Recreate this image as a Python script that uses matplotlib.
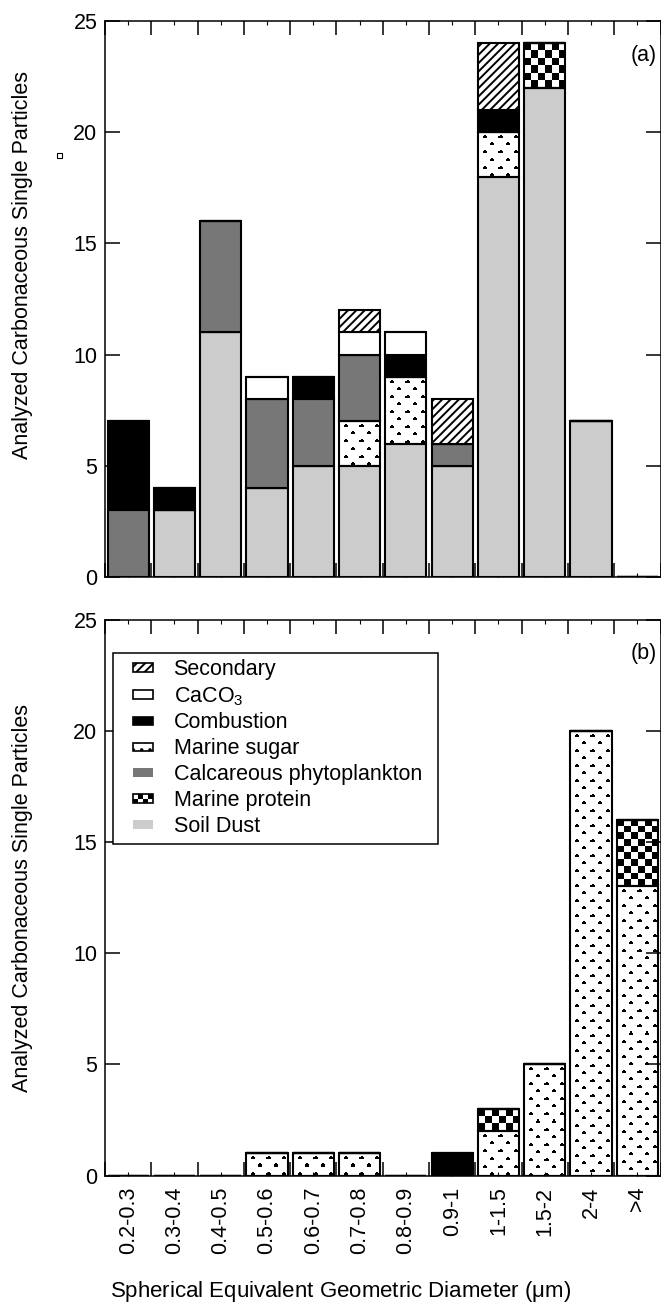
import matplotlib
matplotlib.use("Agg")
import matplotlib.pyplot as plt
import numpy as np
from matplotlib.patches import Patch, Rectangle
from matplotlib.legend_handler import HandlerBase, HandlerPatch

plt.rcParams["font.family"] = ["Liberation Sans", "DejaVu Sans"]
plt.rcParams["mathtext.fontset"] = "custom"
plt.rcParams["mathtext.rm"] = "Liberation Sans"
plt.rcParams["mathtext.it"] = "Liberation Sans:italic"
plt.rcParams["hatch.linewidth"] = 1.4

FS = 15.5

categories = ["0.2-0.3", "0.3-0.4", "0.4-0.5", "0.5-0.6", "0.6-0.7", "0.7-0.8",
              "0.8-0.9", "0.9-1", "1-1.5", "1.5-2", "2-4", ">4"]

# stacking order, bottom to top
components = ["Soil Dust", "Marine sugar", "Marine protein",
              "Calcareous phytoplankton", "Combustion", "CaCO$_3$", "Secondary"]
legend_order = ["Secondary", "CaCO$_3$", "Combustion", "Marine sugar",
                "Calcareous phytoplankton", "Marine protein", "Soil Dust"]

# panel (a)
a_soil = [0, 3, 11, 4, 5, 5, 6, 5, 18, 22, 7, 0]
a_sugar = [0, 0, 0, 0, 0, 2, 3, 0, 2, 0, 0, 0]
a_protein = [0, 0, 0, 0, 0, 0, 0, 0, 0, 2, 0, 0]
a_calc = [3, 0, 5, 4, 3, 3, 0, 1, 0, 0, 0, 0]
a_comb = [4, 1, 0, 0, 1, 0, 1, 0, 1, 0, 0, 0]
a_caco3 = [0, 0, 0, 1, 0, 1, 1, 0, 0, 0, 0, 0]
a_secondary = [0, 0, 0, 0, 0, 1, 0, 2, 3, 0, 0, 0]

# panel (b)
b_soil = [0, 0, 0, 0, 0, 0, 0, 0, 0, 0, 0, 0]
b_sugar = [0, 0, 0, 1, 1, 1, 0, 0, 2, 5, 20, 13]
b_protein = [0, 0, 0, 0, 0, 0, 0, 0, 1, 0, 0, 3]
b_calc = [0, 0, 0, 0, 0, 0, 0, 0, 0, 0, 0, 0]
b_comb = [0, 0, 0, 0, 0, 0, 0, 1, 0, 0, 0, 0]
b_caco3 = [0, 0, 0, 0, 0, 0, 0, 0, 0, 0, 0, 0]
b_secondary = [0, 0, 0, 0, 0, 0, 0, 0, 0, 0, 0, 0]

STYLE = {
    "Soil Dust": dict(facecolor="#cccccc", hatch=None),
    "Marine sugar": dict(facecolor="none", hatch=None),
    "Marine protein": dict(facecolor="none", hatch=None),
    "Calcareous phytoplankton": dict(facecolor="#777777", hatch=None),
    "Combustion": dict(facecolor="black", hatch=None),
    "CaCO$_3$": dict(facecolor="white", hatch=None),
    "Secondary": dict(facecolor="white", hatch="////"),
}

BAR_W = 0.89
CELL_PX = 7.0
DOT_PERIOD = 15


def checker_texture(ny, nx):
    rows = max(2, int(round(ny / CELL_PX)))
    cols = max(2, int(round(nx / CELL_PX)))
    return (np.add.outer(np.arange(rows), np.arange(cols)) % 2).astype(float)


def dot_texture(ny, nx):
    # small solid "^" marks on a staggered grid
    yy, xx = np.mgrid[0:ny, 0:nx]
    img = np.ones((ny, nx))
    half = DOT_PERIOD // 2
    for oy, ox in ((3, 5), (3 + half, 5 + half)):
        ry = (yy - oy) % DOT_PERIOD
        rx = (xx - ox) % DOT_PERIOD
        cap = (((ry == 0) & (rx >= 1) & (rx <= 2)) |
               ((ry >= 1) & (ry <= 2) & (rx <= 3)))
        img[cap] = 0
    return img


def texture_fill(ax, bar, maker):
    h = bar.get_height()
    if h <= 0:
        return
    x0, y0, w = bar.get_x(), bar.get_y(), bar.get_width()
    (px0, py0), (px1, py1) = ax.transData.transform([(x0, y0), (x0 + w, y0 + h)])
    img = maker(max(2, int(round(py1 - py0))), max(2, int(round(px1 - px0))))
    im = ax.imshow(img, cmap="gray", vmin=0, vmax=1, extent=(x0, x0 + w, y0, y0 + h),
                   origin="upper", interpolation="nearest", aspect="auto", zorder=1.5)
    im.set_clip_path(bar)


def stacked(ax, layers):
    x = np.arange(len(categories))
    bottom = np.zeros(len(categories))
    for name, vals in zip(components, layers):
        vals = np.asarray(vals, dtype=float)
        st = STYLE[name]
        bars = ax.bar(x, vals, BAR_W, bottom=bottom, facecolor=st["facecolor"],
                      hatch=st["hatch"], edgecolor="black", linewidth=1.5, zorder=2)
        if name == "Marine protein":
            for b in bars:
                texture_fill(ax, b, checker_texture)
        elif name == "Marine sugar":
            for b in bars:
                texture_fill(ax, b, dot_texture)
        bottom += vals


def style_axes(ax):
    ax.set_xlim(-0.5, len(categories) - 0.5)
    ax.set_ylim(0, 25)
    ax.set_yticks(range(0, 26, 5))
    ax.set_xticks(np.arange(len(categories)))
    ax.set_xticks(np.arange(len(categories) + 1) - 0.5, minor=True)
    ax.tick_params(axis="y", direction="in", length=11, width=1.1, left=True,
                   right=True, labelsize=FS, pad=5.5)
    ax.tick_params(axis="x", which="minor", direction="in", length=10, width=1.1,
                   top=True, bottom=True)
    ax.tick_params(axis="x", which="major", direction="in", length=3, width=0.8,
                   top=True, bottom=True, labelsize=FS, pad=8)
    for sp in ax.spines.values():
        sp.set_linewidth(1.1)
        sp.set_zorder(3)
    ax.set_ylabel("Analyzed Carbonaceous Single Particles", fontsize=FS)


def offset_patch(legend, orig_handle, xdescent, ydescent, width, height, fontsize):
    h = height * 0.58
    return Rectangle((-xdescent + width * 0.4, -ydescent + (height - h) / 2),
                     width * 0.6, h)


class CheckerHandler(HandlerBase):
    def create_artists(self, legend, orig_handle, xdescent, ydescent, width, height,
                       fontsize, trans):
        h = height * 0.58
        w = width * 0.6
        x0 = -xdescent + width * 0.4
        y0 = -ydescent + (height - h) / 2
        arts = [Rectangle((x0, y0), w, h, facecolor="white", edgecolor="black",
                          linewidth=1.2, transform=trans)]
        nx, ny = 4, 2
        for i in range(nx):
            for j in range(ny):
                if (i + j) % 2 == 0:
                    arts.append(Rectangle((x0 + i * w / nx, y0 + j * h / ny), w / nx,
                                          h / ny, facecolor="black", linewidth=0,
                                          transform=trans))
        return arts


W, H = 661, 1304
fig = plt.figure(figsize=(W / 100, H / 100), dpi=100)
ax_a = fig.add_axes([105 / W, 1 - 577 / H, 555.5 / W, 556 / H])
ax_b = fig.add_axes([105 / W, 1 - 1175.5 / H, 555.5 / W, 556 / H])

for ax in (ax_a, ax_b):
    style_axes(ax)
ax_a.yaxis.set_label_coords(-0.13, 0.561)
ax_b.yaxis.set_label_coords(-0.13, 0.5)

stacked(ax_a, [a_soil, a_sugar, a_protein, a_calc, a_comb, a_caco3, a_secondary])
stacked(ax_b, [b_soil, b_sugar, b_protein, b_calc, b_comb, b_caco3, b_secondary])
for ax in (ax_a, ax_b):
    ax.set_xlim(-0.5, len(categories) - 0.5)
    ax.set_ylim(0, 25)

ax_a.set_xticklabels([])
ax_b.set_xticklabels(categories, rotation=90)

ax_a.text(0.9937, 0.938, "(a)", transform=ax_a.transAxes, ha="right", va="center",
          fontsize=FS)
ax_b.text(0.9937, 0.938, "(b)", transform=ax_b.transAxes, ha="right", va="center",
          fontsize=FS)

handles = []
handler_map = {}
for name in legend_order:
    st = STYLE[name]
    if name == "Marine protein":
        p = Patch(facecolor="white", edgecolor="black", label=name)
        handler_map[p] = CheckerHandler()
    else:
        face = st["facecolor"]
        hatch = st["hatch"]
        if name == "Marine sugar":
            face, hatch = "white", ".."
        edge = "black" if face in ("white", "black") else "none"
        p = Patch(facecolor=face, hatch=hatch, edgecolor=edge, linewidth=1.2, label=name)
        handler_map[p] = HandlerPatch(patch_func=offset_patch)
    handles.append(p)

leg = ax_b.legend(handles=handles, handler_map=handler_map, loc="upper left",
                  bbox_to_anchor=(0.0149, 0.0, 0.5838, 0.9406), mode="expand",
                  borderaxespad=0, fontsize=FS, frameon=True, fancybox=False,
                  framealpha=1, edgecolor="black", handlelength=1.55,
                  handleheight=0.7, handletextpad=0.95, labelspacing=0.23,
                  borderpad=0.3)
leg.get_frame().set_linewidth(1.1)
leg.set_zorder(5)

fig.text(341 / W, 1 - 1297 / H, r"Spherical Equivalent Geometric Diameter ($\mathregular{\mu}$m)",
         ha="center", va="baseline", fontsize=16)

fig.add_artist(Rectangle((57 / W, 1 - 158 / H), 5 / W, 5 / H, transform=fig.transFigure,
                         fill=False, edgecolor="black", linewidth=0.8))

fig.savefig("out.png", dpi=100)
